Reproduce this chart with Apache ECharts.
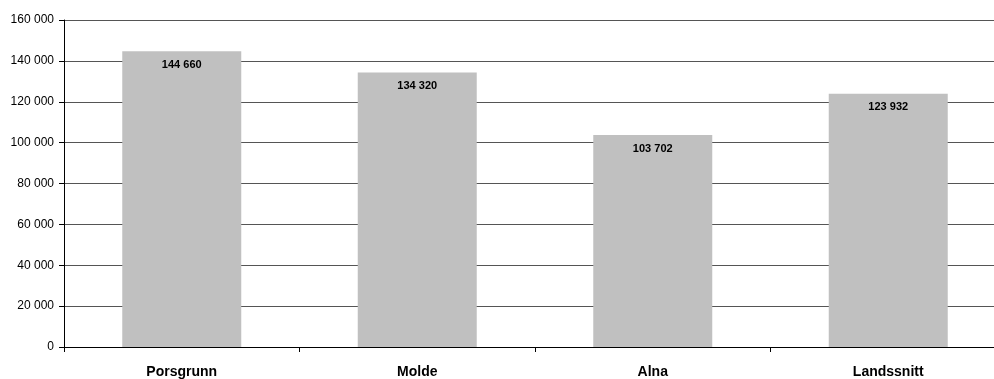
<!DOCTYPE html>
<html>
<head>
<meta charset="utf-8">
<script src="https://cdn.jsdelivr.net/npm/echarts@6/dist/echarts.min.js"></script>
<style>
  html, body { margin: 0; padding: 0; background: #fff; overflow: hidden; }
  /* canvas is a little wider than the window so the plot runs past the right edge */
  #chart { width: 1010px; height: 379px; }
</style>
</head>
<body>
<div id="chart"></div>
<script>
const categories = ['Porsgrunn', 'Molde', 'Alna', 'Landssnitt'];
const values = [144660, 134320, 103702, 123932];

// Space as thousands separator (Norwegian style)
function fmt(v) {
  return String(v).replace(/\B(?=(\d{3})+(?!\d))/g, ' ');
}

const chart = echarts.init(document.getElementById('chart'), null, { renderer: 'canvas' });
chart.setOption({
  animation: false,
  backgroundColor: '#ffffff',
  grid: { left: 64, top: 20, right: 4, bottom: 32, containLabel: false },
  xAxis: {
    type: 'category',
    data: categories,
    axisLine: { lineStyle: { color: '#000', width: 1 } },
    axisTick: { show: true, length: 5, lineStyle: { color: '#000' } },
    axisLabel: {
      color: '#000', fontFamily: 'Liberation Sans, Arial, sans-serif',
      fontSize: 14, fontWeight: 'bold', margin: 18
    }
  },
  yAxis: {
    type: 'value',
    min: 0, max: 160000, interval: 20000,
    axisLine: { show: true, lineStyle: { color: '#000', width: 1 } },
    axisTick: { show: true, length: 5, lineStyle: { color: '#000' } },
    axisLabel: {
      color: '#000', fontFamily: 'Liberation Sans, Arial, sans-serif',
      fontSize: 12, margin: 10, formatter: fmt
    },
    splitLine: { show: true, lineStyle: { color: '#555', width: 1 } }
  },
  series: [{
    type: 'bar',
    data: values,
    barWidth: 119,
    itemStyle: { color: '#c0c0c0' },
    label: {
      show: true, position: 'insideTop', distance: 8,
      color: '#000', fontFamily: 'Liberation Sans, Arial, sans-serif',
      fontSize: 11, fontWeight: 'bold',
      formatter: p => fmt(p.value)
    }
  }]
});
</script>
</body>
</html>
